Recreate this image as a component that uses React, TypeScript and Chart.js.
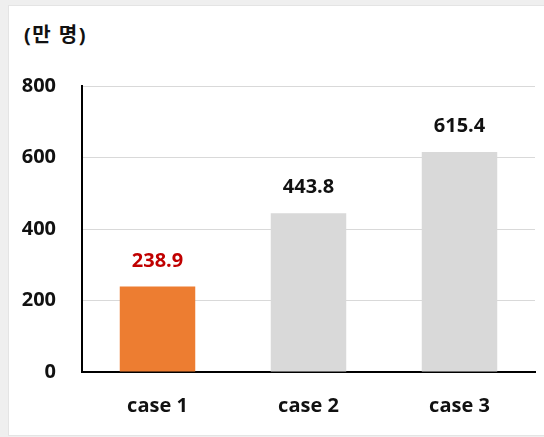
import React, { useEffect, useRef } from "react";
import { Chart, registerables } from "chart.js";

Chart.register(...registerables);

const categories = ["case 1", "case 2", "case 3"];
const values = [238.9, 443.8, 615.4];
const barColors = ["#ED7D31", "#D9D9D9", "#D9D9D9"];
const labelColors = ["#C00000", "#111111", "#111111"];
const yTicks = [0, 200, 400, 600, 800];
const unitLabel = "(만 명)";

const FONT = "'Open Sans', 'Noto Sans CJK KR', sans-serif";

// Value text above each bar, coloured per category
const valueLabels = {
  id: "valueLabels",
  afterDatasetsDraw(chart: any) {
    const { ctx } = chart;
    const meta = chart.getDatasetMeta(0);
    ctx.save();
    ctx.font = `bold 20px ${FONT}`;
    ctx.textAlign = "center";
    ctx.textBaseline = "alphabetic";
    meta.data.forEach((bar: any, i: number) => {
      ctx.fillStyle = labelColors[i];
      ctx.fillText(values[i].toFixed(1), bar.x, bar.y - 20);
    });
    ctx.restore();
  },
};

export default function App() {
  const ref = useRef<HTMLCanvasElement>(null);

  useEffect(() => {
    if (!ref.current) return;
    const chart = new Chart(ref.current, {
      type: "bar",
      data: {
        labels: categories,
        datasets: [
          {
            data: values,
            backgroundColor: barColors,
            categoryPercentage: 1,
            barPercentage: 0.5,
          },
        ],
      },
      options: {
        animation: false,
        responsive: false,
        layout: { padding: { top: 86, right: 9, bottom: 0, left: 0 } },
        plugins: { legend: { display: false }, tooltip: { enabled: false } },
        scales: {
          x: {
            grid: { display: false },
            border: { display: true, color: "#000000", width: 2 },
            ticks: {
              color: "#111111",
              font: { family: FONT, size: 20, weight: "bold" },
              padding: 14,
            },
            afterFit(scale: any) {
              scale.height = 65;
            },
          },
          y: {
            min: 0,
            max: 800,
            afterBuildTicks(scale: any) {
              scale.ticks = yTicks.map((v) => ({ value: v }));
            },
            grid: { color: "#D9D9D9", lineWidth: 1, drawTicks: false },
            border: { display: true, color: "#000000", width: 2 },
            ticks: {
              color: "#111111",
              font: { family: FONT, size: 20, weight: "bold" },
              padding: 26,
            },
            afterFit(scale: any) {
              scale.width = 82;
            },
          },
        },
      },
      plugins: [valueLabels],
    });
    return () => chart.destroy();
  }, []);

  return (
    <div
      style={{
        position: "fixed",
        left: 0,
        top: 0,
        width: 544,
        height: 437,
        background: "#EFEFEF",
        overflow: "hidden",
      }}
    >
      <div
        style={{
          position: "absolute",
          left: 8,
          top: 5,
          width: 545,
          height: 429,
          background: "#FFFFFF",
          border: "1px solid #E4E4E4",
        }}
      />
      <div
        style={{
          position: "absolute",
          left: 24,
          top: 22,
          fontFamily: FONT,
          fontWeight: "bold",
          fontSize: 20,
          letterSpacing: "1.5px",
          color: "#111111",
          lineHeight: "26px",
        }}
      >
        {unitLabel}
      </div>
      <canvas
        ref={ref}
        width={544}
        height={437}
        style={{ position: "absolute", left: 0, top: 0 }}
      />
    </div>
  );
}
